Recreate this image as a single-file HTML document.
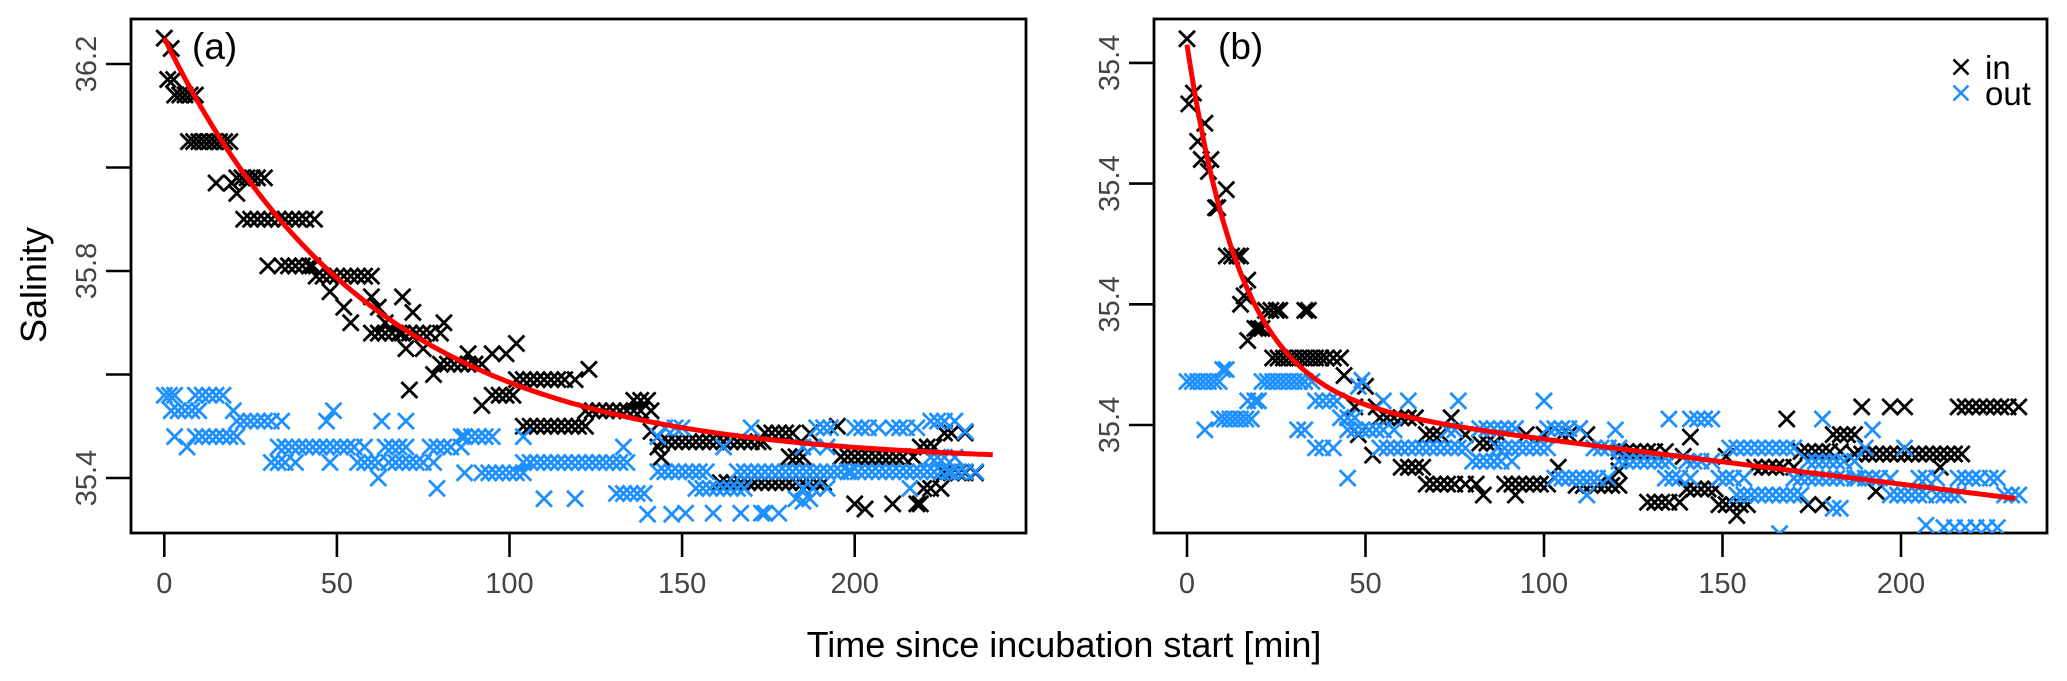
<!DOCTYPE html>
<html><head><meta charset="utf-8"><title>Salinity incubation</title>
<style>
html,body{margin:0;padding:0;background:#fff;}
svg{display:block;font-family:"Liberation Sans",Arial,sans-serif;}
</style></head>
<body>
<svg id="chart" width="2067" height="681" viewBox="0 0 2067 681" xmlns="http://www.w3.org/2000/svg">
<defs>
<clipPath id="clipA"><rect x="131" y="19" width="895" height="514"/></clipPath>
<clipPath id="clipB"><rect x="1154" y="19" width="893" height="514"/></clipPath>
</defs>
<g id="panelA"></g>
<g id="panelB"></g>
<text x="0" y="0" transform="translate(46,285) rotate(-90)" text-anchor="middle" font-size="36" fill="#000">Salinity</text>
<text x="1064" y="657" text-anchor="middle" font-size="36" fill="#000">Time since incubation start [min]</text>
</svg>
<script>
// ---------- Panel (a) data ----------
const xTicksA = [0, 50, 100, 150, 200];
const yTicksA = [35.4, 35.6, 35.8, 36.0, 36.2];
const yTickLabelsA = ["35.4", "", "35.8", "", "36.2"];
const fitA = [35.43, 0.82, 60]; // asymptote, amplitude, time constant
const inA = [
[0,36.25],[2,36.23],[1,36.17],[2.7,36.17],
[3,36.14],[4.5,36.14],[6,36.14],[7.5,36.14],[9,36.14],
[7,36.05],[8.5,36.05],[10,36.05],[11.5,36.05],[13,36.05],[14.5,36.05],[16,36.05],[17.5,36.05],[19,36.05],
[15,35.97],[19.5,35.97],[21,35.95],
[21,35.98],[22.5,35.98],[24,35.98],[25.5,35.98],[27,35.98],[29,35.98],
[23,35.9],[25,35.9],[27,35.9],[29,35.9],[31,35.9],[33,35.9],[35,35.9],[37,35.9],[39,35.9],[41,35.9],[43.5,35.9],
[30,35.81],[34,35.81],[36,35.81],[38,35.81],[40,35.81],[42,35.81],[43,35.81],
[44,35.79],[46,35.79],[48,35.79],[50,35.79],[52,35.79],[54,35.79],[56,35.79],[58,35.79],[60,35.79],
[48,35.76],[52,35.73],[54,35.7],[60,35.75],[62,35.73],[64,35.7],
[60,35.68],[62,35.68],[64,35.68],[66,35.68],[68,35.68],[69,35.68],
[69,35.75],[72,35.72],[70,35.65],
[71,35.68],[73,35.68],[75,35.68],[77,35.68],[80,35.68],
[75,35.65],[81,35.7],[78,35.6],
[80,35.62],[82,35.62],[84,35.62],[86,35.62],[88,35.62],[90,35.62],[92,35.62],
[71,35.57],[88,35.64],[95,35.64],[99,35.64],[102,35.66],[92,35.54],
[95,35.56],[97,35.56],[99,35.56],[101,35.56],
[102,35.59],[104,35.59],[106,35.59],[108,35.59],[110,35.59],[112,35.59],[114,35.59],[116,35.59],[119,35.59],
[104,35.5],[106,35.5],[108,35.5],[110,35.5],[112,35.5],[114,35.5],[116,35.5],[118,35.5],[120,35.5],[122,35.5],
[123,35.61],
[122,35.53],[124,35.53],[126,35.53],[128,35.53],[130,35.53],[132,35.53],[134,35.53],[136,35.53],[138,35.53],[141,35.53],
[136,35.55],[138,35.55],[140,35.55],
[141,35.49],[143,35.46],[144,35.44],
[144,35.47],[146,35.47],[148,35.47],[150,35.47],[152,35.47],[154,35.47],[156,35.47],[158,35.47],[160,35.47],[162,35.47],[164,35.47],[166,35.47],[168,35.47],[170,35.47],[172,35.47],[173.5,35.47],
[174,35.487],[176,35.487],[178,35.487],[180,35.487],[182,35.487],[187,35.487],
[181,35.441],[183,35.441],[185,35.441],
[196,35.441],[198,35.441],[200,35.441],[202,35.441],[204,35.441],[206,35.441],[208,35.441],[210,35.441],[212,35.441],[214,35.441],[217,35.441],
[219,35.46],[221,35.46],[223,35.46],[226,35.487],[228,35.487],[232,35.487],
[161,35.391],[163,35.391],[165,35.391],[167,35.391],[169,35.391],[171,35.391],[173,35.391],[175,35.391],[177,35.391],[179,35.391],[181,35.391],[183,35.391],[185,35.391],[187,35.391],[189,35.391],[191,35.391],
[226,35.41],[228,35.41],[230,35.41],[232,35.41],[235,35.41],
[200,35.35],[203,35.34],[211,35.35],[218,35.35],[219,35.35],[220,35.38],[222,35.38],[225,35.38],[195,35.5]
];
const outA = [
[0,35.56],[1.5,35.56],[3,35.56],
[2,35.53],[4,35.53],[6,35.53],[8,35.53],[10,35.53],
[9,35.56],[11,35.56],[13,35.56],[15,35.56],[17,35.56],
[3,35.48],[6.6,35.46],[9,35.48],
[11,35.48],[13,35.48],[15,35.48],[17,35.48],[19,35.48],[21,35.48],
[20,35.53],[21,35.51],[23,35.51],[25,35.51],[27,35.51],[29,35.51],[31,35.51],[34,35.51],
[31,35.43],[33,35.43],[35,35.43],[38,35.43],
[33,35.46],[35,35.46],[37,35.46],[39,35.46],[41,35.46],[43,35.46],[45,35.46],[47,35.46],[49,35.46],[51,35.46],[53,35.46],[55,35.46],[58,35.46],
[47,35.51],[49,35.53],[48,35.43],
[56,35.43],[58,35.43],[60,35.43],[62,35.43],[65,35.43],
[62,35.4],[63,35.51],[70,35.51],
[64,35.46],[66,35.46],[68,35.46],[70,35.46],
[67,35.43],[69,35.43],[71,35.43],[73,35.43],[75,35.43],[78,35.43],
[77,35.46],[79,35.46],[81,35.46],[83,35.46],[86,35.46],
[79,35.38],[86,35.48],
[87,35.48],[89,35.48],[91,35.48],[93,35.48],[95,35.48],
[87,35.41],[92,35.41],[94,35.41],[96,35.41],[98,35.41],[100,35.41],[102,35.41],[104,35.41],
[104,35.48],
[104,35.43],[106,35.43],[108,35.43],[110,35.43],[112,35.43],[114,35.43],[116,35.43],[118,35.43],[120,35.43],[122,35.43],[124,35.43],[126,35.43],[128,35.43],[130,35.43],[132,35.43],[134,35.43],
[110,35.36],[119,35.36],
[131,35.37],[133,35.37],[135,35.37],[137,35.37],[139,35.37],
[133,35.46],[140,35.33],[147,35.33],
[143,35.412],[145,35.412],[147,35.412],[149,35.412],[151,35.412],[153,35.412],[155,35.412],[157,35.412],
[143,35.48],[145,35.497],[148,35.497],[150,35.497],[170,35.497],
[189,35.497],[191,35.497],[193,35.497],[200,35.497],[202,35.497],[204,35.497],[207,35.497],
[211,35.497],[213,35.497],[215,35.497],[218,35.497],
[222,35.51],[224,35.51],[226,35.51],[229,35.51],[232,35.49],
[166,35.412],[168,35.412],[170,35.412],[172,35.412],[174,35.412],[176,35.412],[178,35.412],[180,35.412],[182,35.412],[184,35.412],[186,35.412],[188,35.412],[190,35.412],[192,35.412],[194,35.412],[196,35.412],[198,35.412],
[199,35.412],[201,35.412],[203,35.412],[205,35.412],[207,35.412],[209,35.412],[211,35.412],[213,35.412],[215,35.412],[217,35.412],[219,35.412],[221,35.412],[223,35.412],[225,35.412],[227,35.412],
[228,35.412],[230,35.412],[232,35.412],[235,35.412],
[154,35.38],[156,35.38],[158,35.38],[160,35.38],[162,35.38],[164,35.38],[166,35.38],[168,35.38],
[185,35.38],[188,35.38],[192,35.38],[216,35.38],
[162,35.46],[185,35.46],[188,35.46],[192,35.46],
[222,35.44],[224,35.44],[226,35.44],[229,35.44],
[183,35.36],[185,35.355],[187,35.36],
[151,35.332],[159,35.332],[167,35.332],[173,35.332],[174,35.332],[178,35.332]
];

// ---------- Panel (b) data ----------
const xTicksB = [0, 50, 100, 150, 200];
const yTicksB = [0, 1, 2, 3];
const yTickLabelsB = ["35.4", "35.4", "35.4", "35.4"];
const fitB = [0.25, 0.0037, 2.9, 15]; // base, linear slope, amplitude, time constant
const inB = [
[0,3.2],[1.8,2.75],[0.5,2.66],[5,2.5],[3,2.35],[4,2.2],[6.7,2.2],[6,2.1],[11,1.95],[8,1.8],[8.6,1.8],
[11,1.4],[12.5,1.4],[14,1.4],[15,1.4],[17,1.2],[16,1.07],[15,1.0],[17,0.7],[19,0.8],[20,0.8],[21,0.8],
[22,0.95],[23.5,0.95],[25,0.95],[26,0.95],[33,0.95],[34,0.95],
[24,0.555],[25.5,0.555],[27,0.555],[28.5,0.555],[30,0.555],[31.5,0.555],[33,0.555],[34.5,0.555],[36,0.555],[37.5,0.555],[39,0.555],[41,0.555],[43,0.555],
[44,0.41],[47,0.15],[50,0.32],[48,-0.08],[52,-0.25],[53,0.15],
[54,0.06],[56,0.06],[58,0.06],[60,0.06],[62,0.06],[64,0.06],
[60,-0.35],[62,-0.35],[64,-0.35],[66,-0.35],
[67,-0.08],[69,-0.08],[71,-0.08],[74,0.06],[78,-0.08],
[67,-0.49],[69,-0.49],[71,-0.49],[73,-0.49],[75,-0.49],[78,-0.49],[81,-0.49],[83,-0.58],
[82,-0.15],[84,-0.15],[86,-0.15],[88,-0.1],
[89,-0.49],[91,-0.49],[93,-0.49],[95,-0.49],[97,-0.49],[99,-0.49],[101,-0.49],[92,-0.58],
[95,-0.08],[100,-0.08],[105,-0.08],[107,-0.08],[112,-0.08],[104,-0.35],
[109,-0.5],[111,-0.5],[113,-0.5],[115,-0.5],[117,-0.5],[119,-0.5],[121,-0.5],
[121,-0.22],[123,-0.22],[125,-0.22],[127,-0.22],[129,-0.22],[131,-0.22],[134,-0.22],[121,-0.38],
[129,-0.64],[131,-0.64],[133,-0.64],[135,-0.64],[138,-0.64],[139,-0.26],[141,-0.1],
[140,-0.53],[142,-0.53],[144,-0.53],[146,-0.53],[148,-0.53],
[149,-0.66],[151,-0.66],[153,-0.66],[155,-0.66],[157,-0.66],[154,-0.75],[151,-0.26],
[159,-0.35],[161,-0.35],[163,-0.35],[165,-0.35],[167,-0.35],[170,-0.35],[168,0.05],
[172,-0.22],[174,-0.22],[176,-0.22],[178,-0.22],[180,-0.22],[183,-0.22],[174,-0.66],[178,-0.66],
[181,-0.08],[183,-0.08],[185,-0.08],[187,-0.08],
[187,-0.24],[189,-0.24],[191,-0.24],[193,-0.24],[195,-0.24],[197,-0.24],[199,-0.24],[201,-0.24],[203,-0.24],[205,-0.24],[207,-0.24],[209,-0.24],[211,-0.24],[213,-0.24],[215,-0.24],[217,-0.24],
[189,0.15],[197,0.15],[201,0.15],[193,-0.55],[211,-0.35],
[216,0.15],[218,0.15],[220,0.15],[222,0.15],[224,0.15],[226,0.15],[228,0.15],[230,0.15],[233,0.15]
];
const outB = [
[0,0.36],[1.5,0.36],[3,0.36],[4.5,0.36],[6,0.36],[7.5,0.36],[9,0.36],[10,0.46],[11,0.46],[5,-0.04],
[9,0.05],[10.5,0.05],[12,0.05],[13.5,0.05],[15,0.05],[16.5,0.05],[18,0.05],
[17,0.2],[19,0.2],[20,0.2],
[21,0.36],[22.5,0.36],[24,0.36],[25.5,0.36],[27,0.36],[28.5,0.36],[30,0.36],[31.5,0.36],[33,0.36],[35,0.36],
[31,-0.04],[33,-0.04],[36,0.2],[38,0.2],[40,0.2],[42,0.2],
[36,-0.19],[38,-0.19],[41,-0.19],[43,0.06],[45,0.06],[47,0.06],[45,-0.44],[49,0.37],[48,0.32],
[45,-0.04],[47,-0.04],[49,-0.04],[51,-0.04],[53,-0.04],[55,-0.04],[58,-0.04],[55,0.2],[62,0.2],
[54,-0.19],[56,-0.19],[58,-0.19],[60,-0.19],[62,-0.19],[64,-0.19],[66,-0.19],[68,-0.19],[70,-0.19],[72,-0.19],[74,-0.19],[76,-0.19],[78,-0.19],
[76,0.2],[73,-0.04],[75,-0.04],
[80,-0.3],[82,-0.3],[84,-0.3],[86,-0.3],[88,-0.3],[91,-0.3],
[82,-0.03],[84,-0.03],[86,-0.03],[88,-0.03],[90,-0.03],[92,-0.03],
[87,-0.19],[89,-0.19],[91,-0.19],[93,-0.19],[95,-0.19],[97,-0.19],[99,-0.19],[101,-0.19],[100,0.2],
[101,-0.03],[103,-0.03],[105,-0.03],[107,-0.03],[110,-0.03],
[103,-0.44],[105,-0.44],[107,-0.44],[109,-0.44],[111,-0.44],[113,-0.44],[115,-0.44],[118,-0.44],[112,-0.58],
[114,-0.19],[116,-0.19],[118,-0.19],[121,-0.19],[120,-0.04],
[121,-0.3],[123,-0.3],[125,-0.3],[127,-0.3],[129,-0.3],[131,-0.3],[133,-0.3],[135,-0.3],
[135,0.05],[141,0.05],[143,0.05],[145,0.05],[147,0.05],
[134,-0.44],[136,-0.44],[138,-0.44],[141,-0.44],
[140,-0.3],[142,-0.3],[144,-0.3],[147,-0.3],
[149,-0.44],[151,-0.44],[153,-0.44],[156,-0.44],
[152,-0.19],[154,-0.19],[156,-0.19],[158,-0.19],[160,-0.19],[162,-0.19],[164,-0.19],[166,-0.19],[168,-0.19],[170,-0.19],
[154,-0.58],[156,-0.58],[158,-0.58],[160,-0.58],[162,-0.58],[164,-0.58],[166,-0.58],[168,-0.58],[170,-0.58],[172,-0.58],
[178,0.05],
[170,-0.44],[172,-0.44],[174,-0.44],[176,-0.44],[178,-0.44],[180,-0.44],[182,-0.44],[184,-0.44],[187,-0.44],
[174,-0.3],[176,-0.3],[178,-0.3],[180,-0.3],[182,-0.3],[184,-0.3],[187,-0.3],
[181,-0.69],[183,-0.69],[190,-0.19],[192,-0.04],
[188,-0.44],[190,-0.44],[192,-0.44],[194,-0.44],[197,-0.44],
[197,-0.58],[199,-0.58],[201,-0.58],[203,-0.58],[205,-0.58],[207,-0.58],[201,-0.19],
[205,-0.44],[207,-0.44],[210,-0.44],[207,-0.83],
[210,-0.58],[212,-0.58],[214,-0.58],[216,-0.58],
[216,-0.44],[218,-0.44],[220,-0.44],[222,-0.44],[225,-0.44],
[212,-0.85],[215,-0.85],[218,-0.85],[221,-0.85],[224,-0.85],[227,-0.85],
[227,-0.44],[229,-0.58],[231,-0.58],[233,-0.58],[166,-0.9]
];

const NS = "http://www.w3.org/2000/svg";
function mk(tag, attrs, parent) {
  const e = document.createElementNS(NS, tag);
  for (const k in attrs) e.setAttribute(k, attrs[k]);
  parent.appendChild(e);
  return e;
}

function drawPanel(g, cfg) {
  const sx = t => cfg.x0 + t * cfg.xs;
  const sy = v => cfg.y0 - (v - cfg.v0) * cfg.ys;
  const frame = mk("rect", {x: cfg.L, y: 19, width: cfg.R - cfg.L, height: 514, fill: "none", stroke: "#000", "stroke-width": 2.8}, g);
  
  
  cfg.xTicks.forEach(t => {
    const ln = mk("line", {x1: sx(t), x2: sx(t), y1: 533, y2: 557, stroke: "#000", "stroke-width": 2.6}, g);
    
    
    const tx = mk("text", {x: sx(t), y: 593, "text-anchor": "middle", "font-size": 29, fill: "#444"}, g);
    tx.textContent = String(t);
    
    
  });
  cfg.yTicks.forEach((v, i) => {
    const y = sy(v);
    const ln = mk("line", {x1: cfg.L - 25, x2: cfg.L, y1: y, y2: y, stroke: "#000", "stroke-width": 2.6}, g);
    
    
    if (cfg.yLabels[i]) {
      const tx = mk("text", {x: 0, y: 0, transform: "translate(" + (cfg.L - 35) + "," + y + ") rotate(-90)", "text-anchor": "middle", "font-size": 29, fill: "#444"}, g);
      tx.textContent = cfg.yLabels[i];
      
      
    }
  });
  const plot = mk("g", {"clip-path": cfg.clip}, g);
  
  
  function cross(t, v, color, name) {
    const x = sx(t), y = sy(v), h = 8;
    const p = mk("path", {d: "M" + (x - h) + " " + (y - h) + "L" + (x + h) + " " + (y + h) + "M" + (x - h) + " " + (y + h) + "L" + (x + h) + " " + (y - h), stroke: color, "stroke-width": 2.8, fill: "none"}, plot);
    
    
  }
  cfg.inD.forEach(d => cross(d[0], d[1], "#000", "point-in"));
  cfg.outD.forEach(d => cross(d[0], d[1], "#1E90FF", "point-out"));
  let path = "";
  for (let t = 0; t <= cfg.tMax; t += 0.5) {
    path += (t === 0 ? "M" : "L") + sx(t).toFixed(1) + " " + sy(cfg.fit(t)).toFixed(1);
  }
  const c = mk("path", {d: path, stroke: "#FF0000", "stroke-width": 5, fill: "none", "stroke-linejoin": "round"}, plot);
  
  
  const lab = mk("text", {x: cfg.labX, y: 59, "font-size": 37, fill: "#000"}, g);
  lab.textContent = cfg.label;
  
  
}

drawPanel(document.getElementById("panelA"), {
  L: 131, R: 1026, x0: 164.3, xs: 3.452, y0: 64, v0: 36.2, ys: 517.5,
  xTicks: xTicksA, yTicks: yTicksA, yLabels: yTickLabelsA, clip: "url(#clipA)",
  inD: inA, outD: outA, tMax: 240, label: "(a)", labX: 192,
  fit: t => fitA[0] + fitA[1] * Math.exp(-t / fitA[2])
});
drawPanel(document.getElementById("panelB"), {
  L: 1154, R: 2047, x0: 1187, xs: 3.57, y0: 425, v0: 0, ys: 120.7,
  xTicks: xTicksB, yTicks: yTicksB, yLabels: yTickLabelsB, clip: "url(#clipB)",
  inD: inB, outD: outB, tMax: 232, label: "(b)", labX: 1218,
  fit: t => fitB[0] - fitB[1] * t + fitB[2] * Math.exp(-t / fitB[3])
});

const svg = document.getElementById("chart");
const leg = mk("g", {}, svg);


[["in", "#000", 67], ["out", "#1E90FF", 93]].forEach(e => {
  const x = 1961, y = e[2], h = 7.5;
  const m = mk("path", {d: "M" + (x - h) + " " + (y - h) + "L" + (x + h) + " " + (y + h) + "M" + (x - h) + " " + (y + h) + "L" + (x + h) + " " + (y - h), stroke: e[1], "stroke-width": 2.6}, leg);
  
  
  const t = mk("text", {x: 1985, y: y + 12, "font-size": 33, fill: "#000"}, leg);
  t.textContent = e[0];
  
  
});
</script>
</body></html>
